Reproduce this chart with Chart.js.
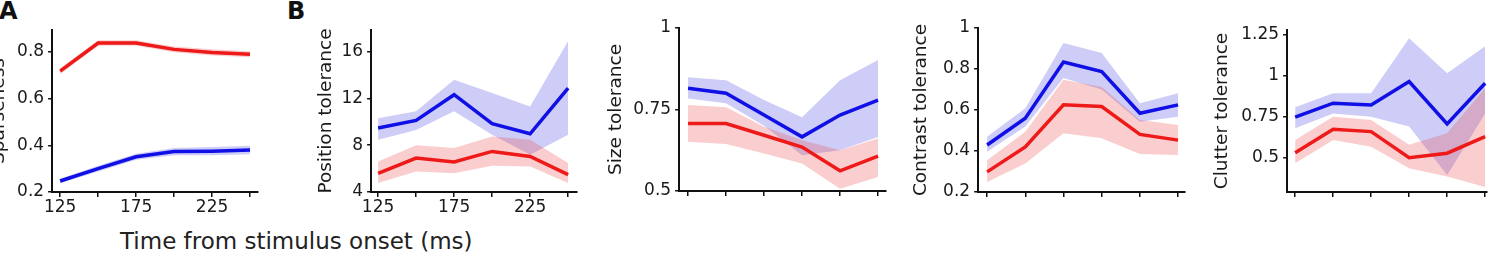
<!DOCTYPE html>
<html>
<head>
<meta charset="utf-8">
<script src="https://cdn.jsdelivr.net/npm/chart.js@4.4.1/dist/chart.umd.min.js"></script>
<style>
    body { margin: 0; background: #fff; }
    #page { position: relative; width: 1490px; height: 255px; overflow: hidden; background: #fff; }
    .panel { position: absolute; top: 0; height: 255px; }
    .letter { position: absolute; font: bold 24px 'DejaVu Sans', sans-serif; color: #111; line-height: normal; }
    #xlabel { position: absolute; font: 23px 'DejaVu Sans', sans-serif; color: #222; line-height: normal; white-space: nowrap; }
</style>
</head>
<body>
<div id="page">
    <div class="letter" style="left:-1px; top:-3px;">A</div>
    <div class="letter" style="left:287px; top:-3px;">B</div>
    <div id="xlabel" style="left:120px; top:228px;">Time from stimulus onset (ms)</div>
    <div class="panel" id="pA"><canvas id="cA"></canvas></div>
    <div class="panel" id="pPos"><canvas id="cPos"></canvas></div>
    <div class="panel" id="pSize"><canvas id="cSize"></canvas></div>
    <div class="panel" id="pCon"><canvas id="cCon"></canvas></div>
    <div class="panel" id="pClut"><canvas id="cClut"></canvas></div>
</div>
<script>
// time points (ms) and which of them carry a label
const times = [125, 150, 175, 200, 225, 250];
const timeLabels = [125, 175, 225];

// A - sparseness
const sparseRed = [0.718, 0.838, 0.838, 0.811, 0.798, 0.790];
const sparseRedHi = [0.730, 0.850, 0.850, 0.823, 0.811, 0.803];
const sparseRedLo = [0.706, 0.826, 0.826, 0.799, 0.785, 0.777];
const sparseBlue = [0.247, 0.300, 0.351, 0.373, 0.375, 0.380];
const sparseBlueHi = [0.257, 0.312, 0.364, 0.389, 0.393, 0.398];
const sparseBlueLo = [0.237, 0.288, 0.338, 0.357, 0.357, 0.362];
const sparseTicks = [0.2, 0.4, 0.6, 0.8];

// B - position tolerance
const posRed = [5.6, 6.9, 6.56, 7.47, 7.04, 5.48];
const posRedHi = [6.6, 8.0, 7.76, 8.75, 8.47, 6.48];
const posRedLo = [4.77, 5.76, 5.6, 6.25, 6.19, 4.77];
const posBlue = [9.47, 10.12, 12.32, 9.84, 8.98, 12.89];
const posBlueHi = [10.3, 10.9, 13.6, 12.46, 11.3, 16.9];
const posBlueLo = [8.47, 9.3, 10.9, 8.9, 7.19, 8.9];
const posTicks = [4, 8, 12, 16];

// B - size tolerance
const sizeRed = [0.707, 0.707, 0.671, 0.635, 0.562, 0.607];
const sizeRedHi = [0.764, 0.757, 0.697, 0.656, 0.625, 0.661];
const sizeRedLo = [0.651, 0.644, 0.615, 0.584, 0.507, 0.543];
const sizeBlue = [0.815, 0.800, 0.733, 0.666, 0.733, 0.779];
const sizeBlueHi = [0.849, 0.840, 0.779, 0.726, 0.840, 0.902];
const sizeBlueLo = [0.784, 0.769, 0.700, 0.610, 0.625, 0.666];
const sizeTicks = [0.5, 0.75, 1];

// B - contrast tolerance
const conRed = [0.298, 0.420, 0.625, 0.617, 0.481, 0.453];
const conRedHi = [0.355, 0.494, 0.748, 0.712, 0.551, 0.527];
const conRedLo = [0.249, 0.339, 0.486, 0.462, 0.385, 0.380];
const conBlue = [0.429, 0.560, 0.834, 0.788, 0.584, 0.625];
const conBlueHi = [0.470, 0.609, 0.927, 0.878, 0.633, 0.682];
const conBlueLo = [0.396, 0.519, 0.756, 0.700, 0.543, 0.567];
const conTicks = [0.2, 0.4, 0.6, 0.8, 1];

// B - clutter tolerance
const clutRed = [0.530, 0.674, 0.659, 0.500, 0.527, 0.628];
const clutRedHi = [0.608, 0.750, 0.730, 0.578, 0.649, 0.924];
const clutRedLo = [0.466, 0.608, 0.567, 0.435, 0.384, 0.320];
const clutBlue = [0.747, 0.833, 0.822, 0.965, 0.706, 0.955];
const clutBlueHi = [0.808, 0.894, 0.894, 1.230, 1.016, 1.180];
const clutBlueLo = [0.680, 0.770, 0.750, 0.690, 0.394, 0.770];
const clutTicks = [0.5, 0.75, 1, 1.25];

const RED = '#ee1a1a';
const BLUE = '#1010e6';
const RED_BAND = 'rgba(235,60,60,0.25)';
const BLUE_BAND = 'rgba(90,90,230,0.30)';
const FONT = 'DejaVu Sans';
const INK = '#111';

function pts(arr) {
    return times.map((t, i) => ({ x: t, y: arr[i] }));
}

function band(hi, lo, color) {
    return [
        { data: pts(hi), fill: '+1', backgroundColor: color, borderWidth: 0, pointRadius: 0, order: 2 },
        { data: pts(lo), fill: false, borderWidth: 0, pointRadius: 0, order: 2 }
    ];
}

function line(vals, color) {
    return { data: pts(vals), borderColor: color, borderWidth: 3.5, pointRadius: 0, fill: false, tension: 0, order: 0 };
}

// p: plot box on the page (l, t, r, b) and where the y title is centred
function makePanel(canvasId, divId, p) {
    const titleSize = 18.5;
    const divLeft = p.titleX - titleSize * 0.6 - 4;
    const padR = 12;
    const div = document.getElementById(divId);
    div.style.left = divLeft + 'px';
    div.style.width = (p.r - divLeft + padR) + 'px';

    const yw = p.l - divLeft;
    const xh = 255 - p.b;

    return new Chart(document.getElementById(canvasId), {
        type: 'line',
        data: {
            datasets: [
                line(p.red, RED),
                line(p.blue, BLUE),
                ...band(p.redHi, p.redLo, RED_BAND),
                ...band(p.blueHi, p.blueLo, BLUE_BAND)
            ]
        },
        options: {
            responsive: true,
            maintainAspectRatio: false,
            animation: false,
            events: [],
            layout: { autoPadding: false, padding: { top: p.t, right: padR, left: 0, bottom: 0 } },
            plugins: { legend: { display: false }, tooltip: { enabled: false } },
            scales: {
                x: {
                    type: 'linear',
                    min: p.xMin, max: p.xMax,
                    afterBuildTicks: s => { s.ticks = times.map(v => ({ value: v })); },
                    afterFit: s => { s.height = xh; },
                    grid: { drawOnChartArea: false, drawTicks: true, tickLength: 5, color: INK, lineWidth: 1.5 },
                    border: { display: true, color: INK, width: 2 },
                    ticks: {
                        autoSkip: false, maxRotation: 0, padding: 0, color: '#1a1a1a',
                        font: { family: FONT, size: 17 },
                        callback: v => (p.showTimes && timeLabels.includes(v)) ? String(v) : ''
                    }
                },
                y: {
                    min: p.yMin, max: p.yMax,
                    afterBuildTicks: s => { s.ticks = p.yTicks.map(v => ({ value: v })); },
                    afterFit: s => { s.width = yw; },
                    grid: { drawOnChartArea: false, drawTicks: true, tickLength: 4, color: INK, lineWidth: 1.5 },
                    border: { display: true, color: INK, width: 2 },
                    ticks: {
                        padding: 4, color: '#1a1a1a',
                        font: { family: FONT, size: 17 },
                        callback: v => String(v)
                    },
                    title: {
                        display: true, text: p.yTitle, color: '#1a1a1a',
                        font: { family: FONT, size: titleSize },
                        padding: { top: 4, bottom: 0 }
                    }
                }
            }
        }
    });
}

makePanel('cA', 'pA', {
    l: 52, t: 30, r: 258, b: 192, titleX: -1, yTitle: 'Sparseness',
    xMin: 119.7, xMax: 255.3, yMin: 0.2, yMax: 0.894, yTicks: sparseTicks, showTimes: true,
    red: sparseRed, redHi: sparseRedHi, redLo: sparseRedLo,
    blue: sparseBlue, blueHi: sparseBlueHi, blueLo: sparseBlueLo
});

makePanel('cPos', 'pPos', {
    l: 371, t: 30, r: 577, b: 192, titleX: 326, yTitle: 'Position tolerance',
    xMin: 120.4, xMax: 255.9, yMin: 4, yMax: 17.85, yTicks: posTicks, showTimes: true,
    red: posRed, redHi: posRedHi, redLo: posRedLo,
    blue: posBlue, blueHi: posBlueHi, blueLo: posBlueLo
});

makePanel('cSize', 'pSize', {
    l: 679, t: 28, r: 886, b: 191, titleX: 616, yTitle: 'Size tolerance',
    xMin: 119.1, xMax: 255.3, yMin: 0.5, yMax: 1, yTicks: sizeTicks, showTimes: false,
    red: sizeRed, redHi: sizeRedHi, redLo: sizeRedLo,
    blue: sizeBlue, blueHi: sizeBlueHi, blueLo: sizeBlueLo
});

makePanel('cCon', 'pCon', {
    l: 978, t: 28, r: 1185, b: 192, titleX: 921, yTitle: 'Contrast tolerance',
    xMin: 119.1, xMax: 254.6, yMin: 0.2, yMax: 1, yTicks: conTicks, showTimes: false,
    red: conRed, redHi: conRedHi, redLo: conRedLo,
    blue: conBlue, blueHi: conBlueHi, blueLo: conBlueLo
});

makePanel('cClut', 'pClut', {
    l: 1287, t: 30, r: 1487, b: 192, titleX: 1222, yTitle: 'Clutter tolerance',
    xMin: 119.7, xMax: 251.3, yMin: 0.29, yMax: 1.28, yTicks: clutTicks, showTimes: false,
    red: clutRed, redHi: clutRedHi, redLo: clutRedLo,
    blue: clutBlue, blueHi: clutBlueHi, blueLo: clutBlueLo
});
</script>
</body>
</html>
